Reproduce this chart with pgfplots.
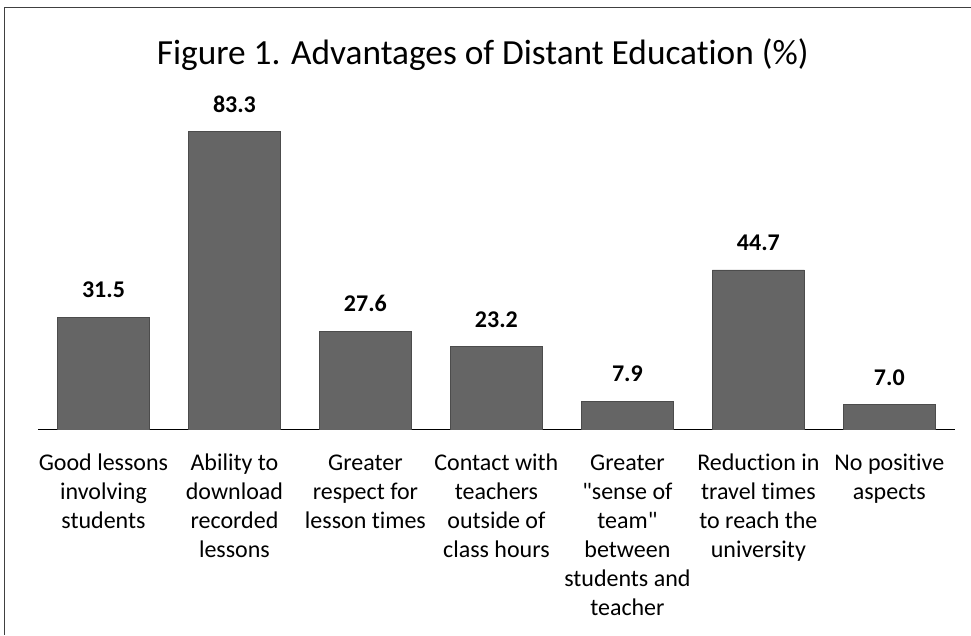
\documentclass[border=0pt]{standalone}
\usepackage{pgfplots}
\pgfplotsset{compat=1.18}
\usepackage{fontspec}
\setmainfont{Carlito}[Ligatures={NoCommon}]
\definecolor{barfill}{HTML}{656565}
\begin{document}
\begin{tikzpicture}[x=0.75pt,y=0.75pt]
\path (0,0) rectangle (971,635);
\draw[black!75, line width=0.75pt] (5,0) -- (5,627) -- (971,627);
\node[font=\fontsize{26.5}{31}\selectfont, anchor=base] at (483,570) {Figure 1. Advantages of Distant Education (\%)};
\begin{axis}[
  at={(28.5pt,153.75pt)}, anchor=south west,
  scale only axis, width=688pt, height=268.5pt,
  xmin=-0.5, xmax=6.5, ymin=0, ymax=100,
  ybar, bar width=69pt,
  hide y axis,
  axis x line*=bottom,
  axis line style={black, line width=0.8pt},
  xtick=data,
  major tick length=0pt,
  xticklabels={{\strut Good lessons\\involving\\students},{\strut Ability to\\download\\recorded\\lessons},{\strut Greater\\respect for\\lesson times},{\strut Contact with\\teachers\\outside of\\class hours},{\strut Greater\\\textquotedbl sense of\\team\textquotedbl\\between\\students and\\teacher},{\strut Reduction in\\travel times\\to reach the\\university},{\strut No positive\\aspects}},
  xticklabel style={align=center, anchor=north, font=\fontsize{18}{21.75}\selectfont, yshift=-12pt},
  nodes near coords,
  every node near coord/.append style={font=\fontsize{18}{21}\selectfont\bfseries, yshift=11pt},
  /pgf/number format/.cd, fixed, fixed zerofill, precision=1, assume math mode=true,
]
\addplot[fill=barfill, draw=black!70, line width=0.4pt] coordinates {(0,31.5) (1,83.3) (2,27.6) (3,23.2) (4,7.9) (5,44.7) (6,7.0)};
\end{axis}
\end{tikzpicture}
\end{document}
